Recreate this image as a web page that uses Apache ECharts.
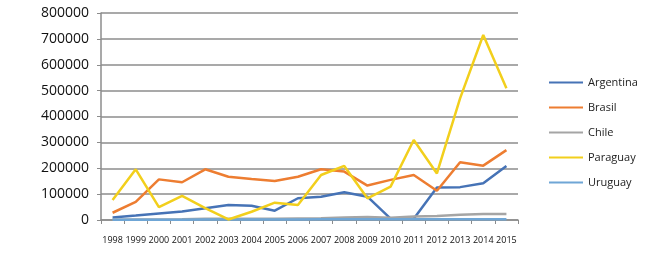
<!DOCTYPE html>
<html>
<head>
<meta charset="utf-8">
<script src="https://cdn.jsdelivr.net/npm/echarts@6/dist/echarts.min.js"></script>
<style>
  html, body { margin: 0; padding: 0; background: #fff; }
  #lineChart { width: 662px; height: 267px; }
</style>
</head>
<body>
<div id="lineChart"></div>
<script>
// años
const years = ["1998", "1999", "2000", "2001", "2002", "2003", "2004", "2005", "2006",
  "2007", "2008", "2009", "2010", "2011", "2012", "2013", "2014", "2015"];

const argentina = [10000, 17000, 25000, 33000, 45000, 58000, 55000, 36000, 84000,
  90000, 107000, 90000, 5000, 5000, 126000, 127000, 142000, 209000];
const brasil = [28000, 70000, 157000, 146000, 196000, 167000, 158000, 151000, 167000,
  196000, 187000, 133000, 155000, 174000, 113000, 223000, 210000, 270000];
const chile = [1000, 1500, 2000, 2500, 5000, 5000, 5000, 5000, 6000,
  7000, 10000, 12000, 9000, 14000, 15000, 20000, 23000, 23000];
const paraguay = [77000, 196000, 50000, 93000, 46000, 2000, 32000, 67000, 58000,
  174000, 209000, 84000, 129000, 309000, 180000, 470000, 715000, 509000];
const uruguay = [1000, 1000, 1000, 1000, 1500, 2000, 2000, 2000, 2000,
  2500, 3000, 3000, 3000, 3000, 3000, 3000, 3000, 3000];

const names = ["Argentina", "Brasil", "Chile", "Paraguay", "Uruguay"];
const colors = ["#4673b6", "#ed7d31", "#a5a5a5", "#f2cf1c", "#6fa6d6"];

function draw() {
  let lineChart = echarts.init(document.getElementById("lineChart"));
  let series = [argentina, brasil, chile, paraguay, uruguay].map(function (d, i) {
    return {
      name: names[i],
      type: "line",
      data: d,
      symbol: "none",
      z: i === 3 ? 5 : 2,
      lineStyle: { color: colors[i], width: 2.5 },
      itemStyle: { color: colors[i] }
    };
  });
  let option = {
    animation: false,
    color: colors,
    legend: {
      orient: "vertical",
      left: 544,
      top: 72,
      icon: "rect",
      itemWidth: 34,
      itemHeight: 2,
      itemGap: 14,
      textStyle: { fontFamily: "Open Sans", fontSize: 11, color: "#222" },
      data: names
    },
    grid: {
      left: 101,
      right: 144,
      top: 13,
      bottom: 47
    },
    xAxis: {
      type: "category",
      boundaryGap: true,
      data: years,
      axisLine: { lineStyle: { color: "#8c8c8c", width: 1.5 } },
      axisTick: { show: true, length: 4, interval: 0, lineStyle: { color: "#8c8c8c" } },
      axisLabel: { margin: 16, fontSize: 9, color: "#111", fontFamily: "Open Sans", interval: 0 }
    },
    yAxis: {
      type: "value",
      min: 0,
      max: 800000,
      interval: 100000,
      axisLine: { show: true, lineStyle: { color: "#8c8c8c", width: 1.5 } },
      axisTick: { show: true, length: 4, lineStyle: { color: "#8c8c8c" } },
      axisLabel: {
        margin: 12, fontSize: 14, color: "#111", fontFamily: "Open Sans",
        formatter: function (v) { return String(v); }
      },
      splitLine: { lineStyle: { color: "#8c8c8c", width: 1.5 } }
    },
    series: series
  };
  lineChart.setOption(option);
}
draw();
</script>
</body>
</html>
